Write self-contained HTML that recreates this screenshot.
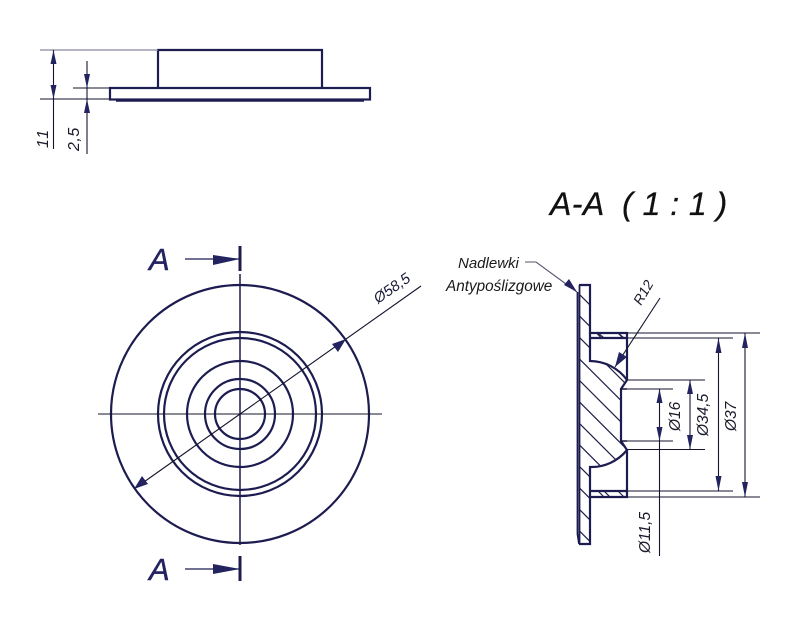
<!DOCTYPE html>
<html>
<head>
<meta charset="utf-8">
<style>
html,body{margin:0;padding:0;background:#fff;width:800px;height:632px;overflow:hidden}
svg{display:block}
text{font-family:"Liberation Sans",sans-serif;font-style:italic}
.o{fill:none;stroke:#1c1c50;stroke-width:2.200}
.t{fill:none;stroke:#14142e;stroke-width:1.100}
.h{fill:none;stroke:#22224a;stroke-width:1.200}
.a{fill:#23235f;stroke:none}
</style>
</head>
<body>
<svg width="800" height="632" viewBox="0 0 800 632" xmlns="http://www.w3.org/2000/svg">
<defs>
<clipPath id="sec"><path d="M579 285H590V333H627V338H590V361A46 46 0 0 1 627 380L621 389V441L627 450A46 46 0 0 1 590 467V491H627V497H590V544H579Z"/></clipPath>
</defs>

<!-- top view -->
<path class="o" d="M158 87.500V50H322V87.500"/>
<rect class="o" x="110" y="88" width="260" height="11.500"/>
<path d="M116 100.500H364" stroke="#1c1c50" stroke-width="2.500" fill="none"/>
<path d="M40 50H158" stroke="#8888a0" stroke-width="1.200" fill="none"/>
<path class="t" d="M40 99H110M73 88H110M53.500 50V149M87 61V154"/>
<path class="a" d="M53.500 50L50.500 64H56.500ZM53.500 99L50.500 85H56.500ZM87 88L84 74H90ZM87 99L84 113H90Z"/>
<text transform="translate(48,148) rotate(-90)" font-size="16" fill="#1a1a2a" letter-spacing="1.500">11</text>
<text transform="translate(79,151) rotate(-90)" font-size="16" fill="#1a1a2a" letter-spacing="0.500">2,5</text>

<!-- title -->
<text x="550" y="215" font-size="32" fill="#111" stroke="#111" stroke-width="0.300" letter-spacing="0.450" xml:space="preserve">A-A  ( 1 : 1 )</text>

<!-- front view -->
<circle class="o" cx="240" cy="414" r="129"/>
<circle class="o" cx="240" cy="414" r="82"/>
<circle class="o" cx="240" cy="414" r="76"/>
<circle class="o" cx="240" cy="414" r="53"/>
<circle class="o" cx="240" cy="414" r="35"/>
<circle class="o" cx="240" cy="414" r="25"/>
<path d="M240 274V545" stroke="#1c1c50" stroke-width="1.500" fill="none"/>
<path class="t" d="M98 414H382M134 489L421 286"/>
<path class="a" d="M346 339L332 344L338 352ZM134 489L148 484L142 476Z"/>
<text transform="translate(378,304) rotate(-35)" font-size="15" fill="#1a1a3a">Ø58,5</text>

<!-- section markers -->
<text x="149" y="270" font-size="31" fill="#23235f" stroke="#23235f" stroke-width="0.400">A</text>
<text x="149" y="580" font-size="31" fill="#23235f" stroke="#23235f" stroke-width="0.400">A</text>
<path d="M185 259H240M185 569H240" stroke="#1c1c50" stroke-width="1.200" fill="none"/>
<path class="a" d="M213 255L240 259L213 265ZM213 564L240 569L213 574Z"/>
<path d="M240 246V271M240 556V581" stroke="#1c1c50" stroke-width="3" fill="none"/>

<!-- section hatch -->
<g clip-path="url(#sec)">
<path class="h" d="M578 293l60 60M578 314.500l60 60M578 336l80 80M578 357.500l80 80M578 379l80 80M578 400.500l80 80M578 422l80 80M578 443.500l80 80M578 465l80 80M578 486.500l60 60M578 508l60 60M578 529.500l40 40M598 333l6 5M618 333l6 5M598 491l6 6M618 491l6 6"/>
</g>

<!-- section outline -->
<path class="o" d="M579 285H590V333H627V380M627 450V497H590V544H579M590 338H627M590 491H627"/>
<path class="o" d="M590 333V361A46 46 0 0 1 627 380L621 389V441L627 450A46 46 0 0 1 590 467V497"/>
<path d="M621 389H627M621 441H627" stroke="#1c1c50" stroke-width="1.500" fill="none"/>
<path d="M577.500 292V534L579 544M579.500 285V544" stroke="#1c1c50" stroke-width="1.800" fill="none"/>

<!-- dimensions section -->
<path class="t" d="M627 333H760M627 338H733M627 380H705M621 389H673M621 441H673M627 449.500H705M627 491H733M627 497H760"/>
<path class="t" d="M745 333V497M718.500 338V491M690 380V449.500M659.500 389V556"/>
<path class="a" d="M745 333L742 348H748ZM745 497L742 482H748ZM718.500 338L715.500 353H721.500ZM718.500 491L715.500 476H721.500ZM690 380L687 394H693ZM690 449.500L687 435H693ZM659.500 389L656.500 403H662.500ZM659.500 441L656.500 427H662.500Z"/>
<text transform="translate(680,431) rotate(-90)" font-size="15.500" fill="#1a1a2a">Ø16</text>
<text transform="translate(708,436) rotate(-90)" font-size="15.500" fill="#1a1a2a">Ø34,5</text>
<text transform="translate(736,431) rotate(-90)" font-size="15.500" fill="#1a1a2a">Ø37</text>
<text transform="translate(650,553) rotate(-90)" font-size="15.500" fill="#1a1a2a">Ø11,5</text>

<!-- R12 -->
<path class="t" d="M615 367L660 298"/>
<path class="a" d="M615 367L619 352L627 357Z"/>
<text transform="translate(641,306) rotate(-60)" font-size="14" fill="#1a1a2a">R12</text>

<!-- note -->
<text x="458" y="268" font-size="15" fill="#1a1a1a">Nadlewki</text>
<text x="446" y="291" font-size="15.300" fill="#1a1a1a">Antypoślizgowe</text>
<path d="M525 262H536L577 292" stroke="#55556f" stroke-width="1.100" fill="none"/>
<path class="a" d="M577 292L564 285L569 279Z"/>
</svg>
</body>
</html>
